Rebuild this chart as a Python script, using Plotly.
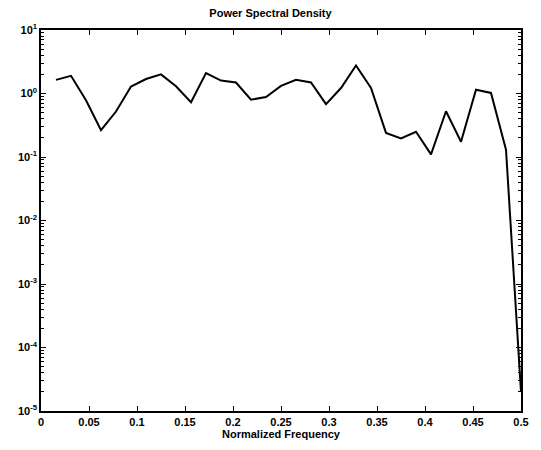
import plotly.graph_objects as go

# Normalized frequency bins k/64, k = 1..32
freq_bins = list(range(1, 33))
freq = [k / 64 for k in freq_bins]
psd = [1.64, 1.90, 0.78, 0.264, 0.52, 1.29, 1.69, 2.0,
       1.30, 0.73, 2.1, 1.6, 1.49, 0.80, 0.88, 1.32,
       1.64, 1.49, 0.68, 1.22, 2.76, 1.22, 0.24, 0.196,
       0.25, 0.11, 0.525, 0.174, 1.15, 1.02, 0.13, 2e-5]

x_ticks = [0, 0.05, 0.1, 0.15, 0.2, 0.25, 0.3, 0.35, 0.4, 0.45, 0.5]
x_tick_text = ["0", "0.05", "0.1", "0.15", "0.2", "0.25", "0.3", "0.35", "0.4", "0.45", "0.5"]
y_exponents = [-5, -4, -3, -2, -1, 0, 1]
y_ticks = [10.0 ** e for e in y_exponents]
y_tick_text = ["10<sup>%d</sup>" % e for e in y_exponents]
y_minor = [m * 10.0 ** e for e in y_exponents[:-1] for m in range(2, 10)]

font = dict(family="Liberation Sans, Arial, sans-serif", size=11, color="black", weight="bold")

fig = go.Figure()
fig.add_trace(go.Scatter(x=freq, y=psd, mode="lines",
                         line=dict(color="black", width=2), showlegend=False))

fig.update_layout(
    width=541, height=450,
    margin=dict(l=41, r=14, t=30, b=37),
    paper_bgcolor="white", plot_bgcolor="white",
    font=font,
    title=dict(text="Power Spectral Density", x=0.5, xanchor="center",
               y=1 - 13 / 450, yanchor="middle", font=dict(size=11)),
)
fig.update_xaxes(
    range=[0, 0.5], tickvals=x_ticks, ticktext=x_tick_text,
    ticks="inside", ticklen=5, tickwidth=1, tickcolor="black",
    showline=True, linecolor="black", linewidth=1.5, mirror="ticks",
    showgrid=False, zeroline=False,
    title=dict(text="Normalized Frequency", standoff=2, font=dict(size=11)),
)
fig.update_yaxes(
    type="log", range=[-5, 1], tickvals=y_ticks, ticktext=y_tick_text,
    ticks="inside", ticklen=5, tickwidth=1, tickcolor="black",
    showline=True, linecolor="black", linewidth=1.5, mirror="ticks",
    showgrid=False, zeroline=False,
    minor=dict(tickvals=y_minor, ticks="inside", ticklen=3, tickcolor="black", showgrid=False),
)

fig.write_html("out.html")
